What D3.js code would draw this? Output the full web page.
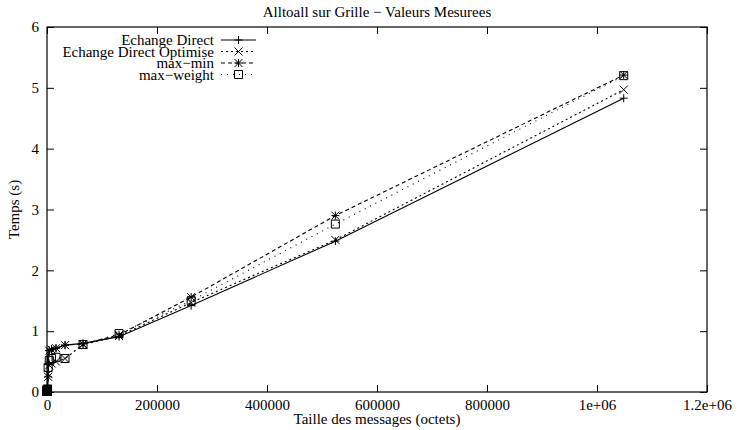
<!DOCTYPE html>
<html>
<head>
<meta charset="utf-8">
<script src="https://cdn.jsdelivr.net/npm/d3@7"></script>
<style>
  html, body { margin: 0; padding: 0; background: #fff; }
  svg { display: block; }
  text { font-family: "Liberation Serif", "Times New Roman", serif; fill: #000; }
</style>
</head>
<body>
<svg id="chart" width="739" height="430"></svg>
<script>
// Message sizes in bytes (powers of two)
const sizes = [1, 2, 4, 8, 16, 32, 64, 128, 256, 512, 1024, 2048, 4096, 8192,
               16384, 32768, 65536, 131072, 262144, 524288, 1048576];

// Measured times (s)
const echangeDirect  = [0.01, 0.01, 0.01, 0.01, 0.02, 0.02, 0.02, 0.03, 0.03, 0.04, 0.05,
                        0.45, 0.68, 0.70, 0.72, 0.77, 0.80, 0.91, 1.42, 2.48, 4.83];
const echangeOptim   = [0.01, 0.01, 0.01, 0.01, 0.02, 0.02, 0.02, 0.03, 0.03, 0.04, 0.05,
                        0.30, 0.44, 0.47, 0.50, 0.55, 0.78, 0.92, 1.47, 2.50, 4.97];
const maxMin         = [0.01, 0.01, 0.01, 0.01, 0.02, 0.02, 0.02, 0.03, 0.03, 0.04, 0.05,
                        0.25, 0.68, 0.70, 0.72, 0.77, 0.79, 0.94, 1.56, 2.90, 5.21];
const maxWeight      = [0.01, 0.01, 0.01, 0.01, 0.02, 0.02, 0.02, 0.03, 0.03, 0.04, 0.05,
                        0.40, 0.52, 0.55, 0.57, 0.55, 0.78, 0.96, 1.50, 2.76, 5.20];

const seriesNames = ["Echange Direct", "Echange Direct Optimise", "max\u2212min", "max\u2212weight"];
const xTicks = [0, 200000, 400000, 600000, 800000, 1000000, 1200000];
const xTickLabels = ["0", "200000", "400000", "600000", "800000", "1e+06", "1.2e+06"];
const yTicks = [0, 1, 2, 3, 4, 5, 6];

const title = "Alltoall sur Grille \u2212 Valeurs Mesurees";
const xTitle = "Taille des messages (octets)";
const yTitle = "Temps (s)";

const series = [
  { name: seriesNames[0], values: echangeDirect, dash: null,  marker: "plus" },
  { name: seriesNames[1], values: echangeOptim,  dash: "2,3", marker: "cross" },
  { name: seriesNames[2], values: maxMin,        dash: "4,3", marker: "star" },
  { name: seriesNames[3], values: maxWeight,     dash: "1,5", marker: "square" }
];

const svg = d3.select("#chart");
const plotLeft = 47, plotRight = 707, plotTop = 27, plotBottom = 392;
const fontSize = 15;

const x = d3.scaleLinear().domain([0, 1200000]).range([plotLeft, plotRight]);
const y = d3.scaleLinear().domain([0, 6]).range([plotBottom, plotTop]);

const tickLen = 7;

// Frame
svg.append("rect")
  .attr("x", plotLeft).attr("y", plotTop)
  .attr("width", plotRight - plotLeft).attr("height", plotBottom - plotTop)
  .attr("fill", "none").attr("stroke", "#000").attr("stroke-width", 1.2);

// Bottom axis (ticks pointing inwards)
const xAxis = d3.axisBottom(x).tickValues(xTicks).tickSize(-tickLen).tickPadding(10)
  .tickFormat((d, i) => xTickLabels[i]);
const gx = svg.append("g").attr("transform", `translate(0,${plotBottom})`).call(xAxis);
gx.select(".domain").remove();
gx.selectAll(".tick line").attr("stroke", "#000");
gx.selectAll(".tick text").attr("font-size", fontSize)
  .style("font-family", "'Liberation Serif', serif").attr("dy", "0.71em").attr("y", 7);

// Top mirrored ticks
const gxt = svg.append("g").attr("transform", `translate(0,${plotTop})`)
  .call(d3.axisTop(x).tickValues(xTicks).tickSize(-tickLen).tickFormat(""));
gxt.select(".domain").remove();
gxt.selectAll(".tick line").attr("stroke", "#000");

// Left axis
const yAxis = d3.axisLeft(y).tickValues(yTicks).tickSize(-tickLen).tickPadding(10)
  .tickFormat(d3.format("d"));
const gy = svg.append("g").attr("transform", `translate(${plotLeft},0)`).call(yAxis);
gy.select(".domain").remove();
gy.selectAll(".tick line").attr("stroke", "#000");
gy.selectAll(".tick text").attr("font-size", fontSize)
  .style("font-family", "'Liberation Serif', serif").attr("x", -8);

// Right mirrored ticks
const gyr = svg.append("g").attr("transform", `translate(${plotRight},0)`)
  .call(d3.axisRight(y).tickValues(yTicks).tickSize(-tickLen).tickFormat(""));
gyr.select(".domain").remove();
gyr.selectAll(".tick line").attr("stroke", "#000");

// Titles
svg.append("text").attr("x", (plotLeft + plotRight) / 2).attr("y", 17)
  .attr("text-anchor", "middle").attr("font-size", fontSize).text(title);
svg.append("text").attr("x", (plotLeft + plotRight) / 2).attr("y", 424)
  .attr("text-anchor", "middle").attr("font-size", fontSize).text(xTitle);
svg.append("text").attr("transform", `translate(19,${(plotTop + plotBottom) / 2}) rotate(-90)`)
  .attr("text-anchor", "middle").attr("font-size", fontSize).text(yTitle);

// Marker drawing
function drawMarker(g, kind, cx, cy) {
  const s = 4;
  const path = d3.path();
  if (kind === "plus" || kind === "star") {
    path.moveTo(cx - s, cy); path.lineTo(cx + s, cy);
    path.moveTo(cx, cy - s); path.lineTo(cx, cy + s);
  }
  if (kind === "cross" || kind === "star") {
    path.moveTo(cx - s, cy - s); path.lineTo(cx + s, cy + s);
    path.moveTo(cx - s, cy + s); path.lineTo(cx + s, cy - s);
  }
  if (kind === "square") {
    path.rect(cx - s, cy - s, 2 * s, 2 * s);
  }
  g.append("path").attr("d", path.toString())
    .attr("fill", "none").attr("stroke", "#000").attr("stroke-width", 1);
}

const line = d3.line().x(d => x(d[0])).y(d => y(d[1]));
const plot = svg.append("g");

series.forEach(s => {
  const pts = sizes.map((sz, i) => [sz, s.values[i]]);
  plot.append("path").datum(pts).attr("d", line)
    .attr("fill", "none").attr("stroke", "#000").attr("stroke-width", 1.1)
    .attr("stroke-dasharray", s.dash);
  const mg = plot.append("g");
  pts.forEach(p => drawMarker(mg, s.marker, x(p[0]), y(p[1])));
});

// Legend
const legX = 214, sampleX0 = 221, sampleX1 = 256, legY0 = 40, legDy = 11.5;
series.forEach((s, i) => {
  const ly = legY0 + i * legDy;
  svg.append("text").attr("x", legX).attr("y", ly).attr("dy", "0.35em")
    .attr("text-anchor", "end").attr("font-size", fontSize).text(s.name);
  svg.append("line").attr("x1", sampleX0).attr("x2", sampleX1).attr("y1", ly).attr("y2", ly)
    .attr("stroke", "#000").attr("stroke-width", 1.1).attr("stroke-dasharray", s.dash);
  drawMarker(svg, s.marker, (sampleX0 + sampleX1) / 2, ly);
});
</script>
</body>
</html>
